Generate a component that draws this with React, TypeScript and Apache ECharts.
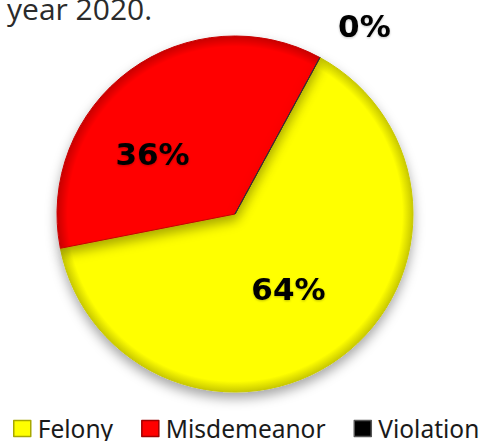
import React, { useEffect, useRef } from "react";
import * as echarts from "echarts";

const categories = ["Felony", "Misdemeanor", "Violation"];
const values = [64, 36, 0];
const colors = ["#ffff00", "#ff0000", "#000000"];
const rimColors = ["#c9c900", "#c80000", "#333333"];
const legendBorders = ["#a8a800", "#a00000", "#555555"];
const titleText = "year 2020.";

export default function App() {
  const ref = useRef<HTMLDivElement>(null);
  useEffect(() => {
    if (!ref.current) return;
    const chart = echarts.init(ref.current, null, { renderer: "svg" });
    const cx = 235;
    const cy = 214;
    const R = 178;
    const labelShift: Record<string, [number, number]> = {
      Felony: [-1, 1],
      Misdemeanor: [-28, 14],
      Violation: [-24, -18],
    };
    chart.setOption({
      animation: false,
      backgroundColor: "#ffffff",
      graphic: [
        {
          type: "text",
          x: 7,
          y: 8,
          style: {
            text: titleText,
            fontFamily: "Open Sans",
            fontSize: 30,
            fill: "#2b2b2b",
            verticalAlign: "middle",
            align: "left",
          },
        },
      ],
      legend: {
        left: 13,
        top: 416,
        padding: 0,
        width: 470,
        itemWidth: 17,
        itemHeight: 16,
        itemGap: 28,
        icon: "rect",
        textStyle: {
          fontFamily: "Noto Sans",
          fontSize: 24.5,
          color: "#1a1a1a",
          padding: [0, 0, 0, 2],
        },
        data: categories.map((name, i) => ({
          name,
          itemStyle: {
            color: colors[i],
            borderColor: legendBorders[i],
            borderWidth: 1.5,
          },
        })),
      },
      series: [
        {
          type: "pie",
          center: [cx, cy],
          radius: R,
          startAngle: 61.5,
          clockwise: true,
          avoidLabelOverlap: false,
          itemStyle: {
            shadowBlur: 12,
            shadowOffsetY: 6,
            shadowColor: "rgba(0,0,0,0.35)",
          },
          label: {
            show: true,
            formatter: (p: any) => Math.round(p.percent) + "%",
            fontFamily: "DejaVu Sans",
            fontWeight: "bold",
            fontSize: 31,
            color: "#000000",
            textShadowColor: "rgba(0,0,0,0.25)",
            textShadowBlur: 2,
            textShadowOffsetY: 1,
          },
          labelLine: { show: false },
          labelLayout: (params: any) => {
            const name = categories[params.dataIndex];
            const s = labelShift[name];
            return { dx: s[0], dy: s[1] };
          },
          data: categories.map((name, i) => ({
            name,
            value: values[i],
            label: { position: i === 2 ? "outside" : "inside" },
            itemStyle: {
              color: {
                type: "radial",
                x: cx,
                y: cy,
                r: R,
                global: true,
                colorStops: [
                  { offset: 0, color: colors[i] },
                  { offset: 0.94, color: colors[i] },
                  { offset: 1, color: rimColors[i] },
                ],
              },
              borderColor: rimColors[i],
              borderWidth: 1,
            },
          })),
        },
      ],
    });
    return () => chart.dispose();
  }, []);
  return (
    <div
      ref={ref}
      style={{ position: "fixed", left: 0, top: 0, width: 483, height: 441 }}
    />
  );
}
